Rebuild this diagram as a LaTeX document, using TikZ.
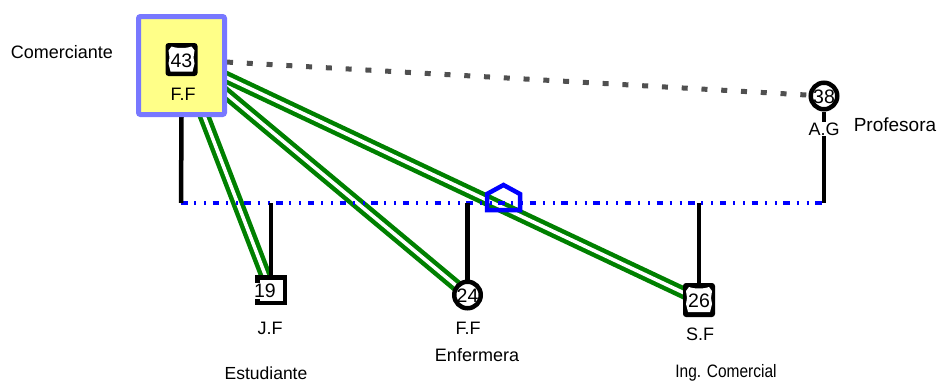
\documentclass[tikz,border=0pt]{standalone}
\usepackage{fontspec}
\usepackage{graphicx}
\setmainfont{Liberation Sans}
\pgfdeclarelayer{bg}
\pgfsetlayers{bg,main}
\definecolor{boxyellow}{RGB}{255,255,136}
\definecolor{boxblue}{RGB}{120,120,255}
\definecolor{relgreen}{RGB}{0,128,0}
\definecolor{dotgray}{RGB}{80,80,80}
\newcommand\shieldat[1]{%
  \fill[white] ([shift={(-13pt,9pt)}]#1.center) -- ([shift={(-10pt,13pt)}]#1.center)
    .. controls ([shift={(-5pt,11pt)}]#1.center) and ([shift={(5pt,11pt)}]#1.center) .. ([shift={(10pt,13pt)}]#1.center)
    -- ([shift={(13pt,9pt)}]#1.center) -- ([shift={(12pt,2pt)}]#1.center) -- ([shift={(13pt,-4pt)}]#1.center)
    -- ([shift={(11pt,-12pt)}]#1.center) -- ([shift={(-11pt,-12pt)}]#1.center) -- ([shift={(-13pt,-4pt)}]#1.center)
    -- ([shift={(-12pt,2pt)}]#1.center) -- cycle;}
\begin{document}
\begin{tikzpicture}[x=1pt,y=-1pt,
  every node/.style={font=\fontsize{18}{21}\selectfont, inner sep=1pt},
  digit/.style={font=\fontsize{19.5}{22}\selectfont, inner sep=0pt},
  selfbox/.style={draw=boxblue, fill=boxyellow, line width=5pt, rounded corners=2pt,
    minimum width=86pt, minimum height=98pt},
  iconbg/.style={fill=black, rounded corners=3pt, inner sep=0pt,
    minimum width=32pt, minimum height=33pt},
  femnode/.style={circle, draw=black, fill=white, line width=4.5pt, minimum size=26.5pt, inner sep=0pt},
  malenode/.style={rectangle, draw=black, fill=white, line width=4.5pt,
    minimum width=27.5pt, minimum height=25.5pt, inner sep=0pt},
  kin/.style={line width=4.5pt, black},
  marr/.style={draw=blue, line width=4.5pt,
    dash pattern=on 6.5pt off 6.7pt on 2pt off 8pt on 2pt off 6.5pt},
  closerel/.style={draw=relgreen, double=white, line width=4.5pt, double distance=3.5pt},
  distantrel/.style={draw=dotgray, line width=5pt, dash pattern=on 6pt off 13.8pt, dash phase=13.8pt},
  sepmark/.style={draw=blue, line width=4.5pt, line join=miter}
]
\useasboundingbox (0,0) rectangle (938,383);

% father / index person
\node[selfbox] (b43) at (181.5,65.5) {};
\node[iconbg] (n43) at (181.5,59.5) {};
\shieldat{n43}
\node[digit] (t43) at (181.5,60.5) {43};
\node (tFF1) at (183,94) {F.F};
\node (lComer) at (62,52) {Comerciante};

% mother
\node[femnode] (p38) at (824,96) {};
\node[digit] (t38) at (824,97) {38};
\node[fill=white, inner sep=0.5pt] (lAG) at (824,129) {A.G};
\node[font=\fontsize{19}{22}\selectfont] (lProf) at (895,125) {Profesora};

% children
\node[malenode] (c19) at (271,290) {};
\node[digit, fill=white, inner sep=1pt] (t19) at (265,291) {19};
\node (lJF) at (270,328) {J.F};
\node[font=\fontsize{17.5}{21}\selectfont] (lEst) at (266,373) {Estudiante};

\node[femnode] (c24) at (467.5,295) {};
\node[digit] (t24) at (467.5,296) {24};
\node (lFF2) at (468,328) {F.F};
\node (lEnf) at (477,355) {Enfermera};

\node[iconbg, minimum height=34pt] (c26) at (699,300) {};
\shieldat{c26}
\node[digit] (t26) at (699,301) {26};
\node (lSF) at (700,334) {S.F};
\node (lIng) at (726,373) {\scalebox{0.86}[1]{Ing. Comercial}};

\coordinate (o43) at (181,56);
\coordinate (m1) at (181,203);
\coordinate (m2) at (824,203);
\coordinate (sep) at (503.5,199);

\begin{pgfonlayer}{bg}
  \draw[closerel] (o43) -- (c19.center);
  \draw[closerel] (o43) -- (c24.center);
  \draw[closerel] (o43) -- (c26.center);
  \draw[distantrel] (n43.center) -- (p38.center);
  \draw[marr] (m1) -- (m2);
  \draw[kin] (b43.south) -- (m1);
  \draw[kin] (p38.south) -- (m2);
  \draw[kin] (c19.north |- m1) -- (c19.north);
  \draw[kin] (c24.north |- m1) -- (c24.north);
  \draw[kin] (c26.north |- m1) -- (c26.north);
  \draw[sepmark] ([shift={(-16.5,-5)}]sep) -- ([shift={(0,-14)}]sep) -- ([shift={(16.5,-5)}]sep)
     -- ([shift={(16.5,11)}]sep) -- ([shift={(-16.5,11)}]sep) -- cycle;
\end{pgfonlayer}
\end{tikzpicture}
\end{document}
